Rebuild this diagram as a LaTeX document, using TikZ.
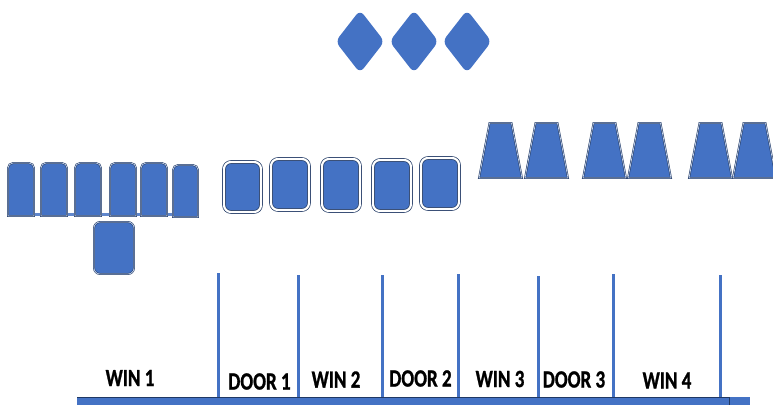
\documentclass[tikz,border=0pt]{standalone}
\usepackage{graphicx}
\usepackage{fontspec}
\setmainfont{Carlito}
\newfontfamily\tagfont[BoldFont=Carlito Bold, BoldFeatures={FakeBold=1.2}]{Carlito}
\usepackage{tikz}
\definecolor{paneblue}{HTML}{4472C4}
\definecolor{frame}{HTML}{1F3864}
\tikzset{
  sash/.style={fill=paneblue, draw=frame, line width=0.55pt, double=white!70!paneblue, double distance=0.7pt},
  panel/.style={fill=paneblue, draw=frame, line width=0.7pt, double=white, double distance=2.2pt, rounded corners=7pt},
  gem/.style={fill=paneblue, rounded corners=6pt},
  post/.style={draw=paneblue, line width=3pt},
  sill/.style={draw=paneblue!85, line width=3pt},
  tag/.style={font=\tagfont\fontsize{19}{20}\selectfont\bfseries, text=black, inner sep=0pt}
}
\newcommand{\stretchy}[1]{\scalebox{1}[1.3]{#1}}

\begin{document}
\begin{tikzpicture}[x=1pt,y=-1pt]
\path[use as bounding box] (0,0) rectangle (773,405);

% diamonds on top
\foreach \c in {360,414,467}
  \fill[gem] ({\c},10) -- ({\c+24.5},41.5) -- ({\c},73) -- ({\c-24.5},41.5) -- cycle;

% left row of sashes
\draw[sill] (7,214.5) -- (172,214.5);
\foreach \a/\b/\t/\u in {8/34/163/216, 41/67/163/216, 75/101/163/216, 110/136/163/216, 141/167/163/216, 173/198/165/217}
  \draw[sash] ({\a},{\u}) -- ({\a},{\t+5}) arc[start angle=180, end angle=270, radius=5]
    -- ({\b-5},{\t}) arc[start angle=270, end angle=360, radius=5] -- ({\b},{\u}) -- cycle;
\draw[sash, rounded corners=6pt] (94,222) rectangle (134,274);

% middle row of panels
\foreach \a/\t/\b/\u in {224/162/261/212, 271/159/309/210, 322/159/360/211, 373/160/411/211, 421/158/459/209}
  \draw[panel] (\a,\t) rectangle (\b,\u);

% trapezoids
\foreach \x in {479,525,583,628,689,733}
  \draw[sash] ({\x},178) -- ({\x+10.5},123) -- ({\x+32.5},123) -- ({\x+43},178) -- cycle;

% floor bar
\fill[paneblue] (77,397) rectangle (750,405);
\draw[frame, line width=0.8pt] (77,397) -- (729,397) -- (729,405);

% dividers
\foreach \x/\t in {218/273, 298/275, 382/275, 458/274, 538/276, 613/274, 720/275}
  \draw[post] (\x,\t) -- (\x,397);

% labels
\node[tag] (win1) at (130,378) {\stretchy{WIN 1}};
\node[tag] (door1) at (259.5,381.5) {\stretchy{DOOR 1}};
\node[tag] (win2) at (336,379.5) {\stretchy{WIN 2}};
\node[tag] (door2) at (420.5,378.5) {\stretchy{DOOR 2}};
\node[tag] (win3) at (500,379) {\stretchy{WIN 3}};
\node[tag] (door3) at (574,379.5) {\stretchy{DOOR 3}};
\node[tag] (win4) at (667,380.5) {\stretchy{WIN 4}};
\end{tikzpicture}
\end{document}
